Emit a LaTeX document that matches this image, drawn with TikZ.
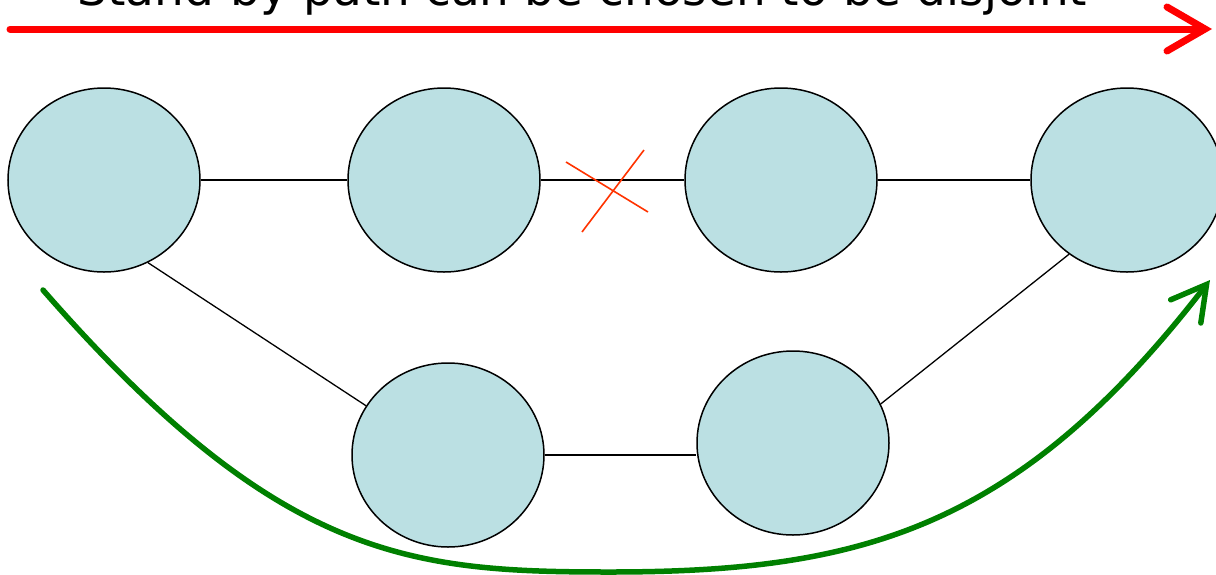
\documentclass[tikz,border=0pt]{standalone}
\usepackage{fontspec}
\setmainfont{DejaVu Sans}
\usetikzlibrary{shapes.geometric, arrows.meta, positioning}
\definecolor{nodefill}{RGB}{187,224,227}
\definecolor{crossred}{RGB}{255,51,0}
\definecolor{pathgreen}{RGB}{0,128,0}

\begin{document}
\begin{tikzpicture}[
  x=1pt, y=-1pt,
  site/.style={ellipse, draw=black, line width=1.5pt, fill=nodefill,
               minimum width=192pt, minimum height=184pt, inner sep=0pt},
  link/.style={line width=1.3pt, black},
  bigarrow/.style={line width=6pt, line cap=round,
                   -{Straight Barb[length=38pt, width=44pt, line cap=round]}}
]
\useasboundingbox (0,0) rectangle (1216,574);

% Title
\node[anchor=base west, inner sep=0pt, font=\fontsize{47}{56}\selectfont] (title) at (77,5)
  {Stand-by path can be chosen to be disjoint};
\coordinate (rstart) at (10,29);
\coordinate (rend) at (1212,29);
\draw[bigarrow, red, line width=7pt] (rstart) -- (rend);

% Top row
\node[site] (a) at (104,180) {};
\node[site] (b) at (444,180) {};
\node[site] (c) at (781,180) {};
\node[site] (d) at (1127,180) {};

% Bottom row
\node[site] (e) at (448,455) {};
\node[site] (f) at (793,443) {};

% Links
\draw[link] (a) -- (b);
\draw[link] (b) -- (c);
\draw[link] (c) -- (d);
\draw[link] (a.-62) -- (e.149);
\draw[link] (e) -- (e -| f.west);
\draw[link] (f.24) -- (d.232);

% Failed link
\coordinate (x1) at (566,162);
\coordinate (x2) at (648,212);
\coordinate (x3) at (644,150);
\coordinate (x4) at (582,232);
\draw[crossred, line width=1.6pt] (x1) -- (x2);
\draw[crossred, line width=1.6pt] (x3) -- (x4);

% Stand-by path
\coordinate (gstart) at (43,290);
\coordinate (gbottom) at (610,572);
\coordinate (gend) at (1210,280);
\draw[bigarrow, pathgreen, line width=5.5pt,
      -{Straight Barb[length=34pt, width=38pt, line cap=round]}]
  (gstart) .. controls (279,560) and (410,572) .. (gbottom)
           .. controls (860,572) and (1017,530) .. (gend);

\end{tikzpicture}
\end{document}
